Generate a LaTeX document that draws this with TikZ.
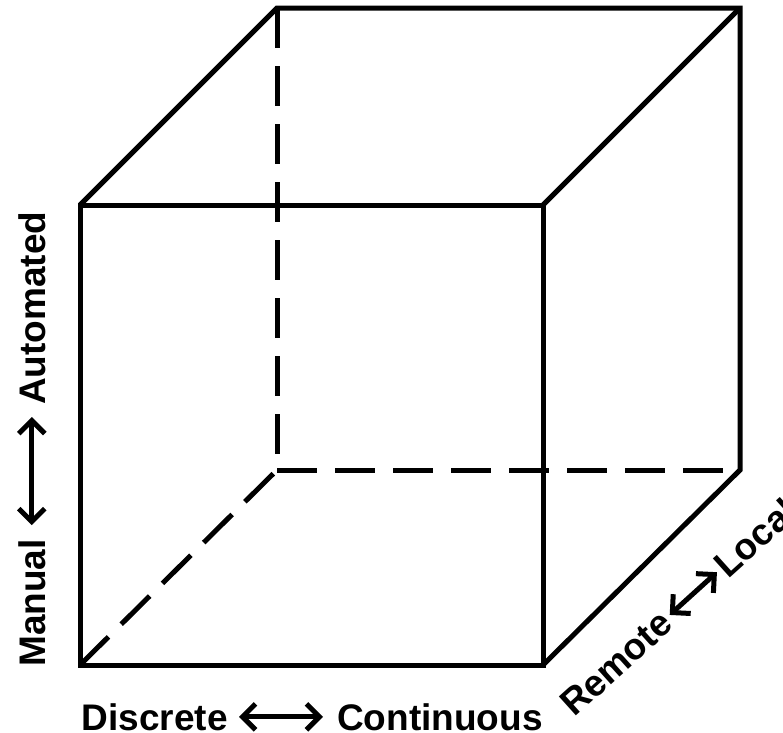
\documentclass[tikz,border=0pt]{standalone}
\usepackage{fontspec}
\setmainfont{Liberation Sans}
\usetikzlibrary{arrows.meta}
\begin{document}
\begin{tikzpicture}[x=1pt,y=-1pt,
  edge/.style={line width=5pt,line join=miter},
  hidden/.style={edge,dash pattern=on 40pt off 18pt},
  lbl/.style={inner sep=0pt,font=\fontsize{37}{42}\selectfont\bfseries},
  barb/.tip={Straight Barb[length=13pt,width=26pt,line width=5pt]},
  dbl/.style={line width=5pt,barb-barb}]
\useasboundingbox (0,0) rectangle (783,732);
% front face corners
\coordinate (f1) at (80,205);
\coordinate (f2) at (543,205);
\coordinate (f3) at (543,665);
\coordinate (f4) at (80,665);
% back face corners
\coordinate (b1) at (277,8);
\coordinate (b2) at (740,8);
\coordinate (b3) at (740,470);
\coordinate (b4) at (277,470);
% hidden edges
\draw[hidden] (b1) -- (b4);
\draw[hidden] (b4) -- (b3);
\draw[hidden] (f4) -- (b4);
% visible edges
\draw[edge] (f1) -- (f2) -- (f3) -- (f4) -- cycle;
\draw[edge] (f1) -- (b1) -- (b2) -- (b3) -- (f3);
\draw[edge] (f2) -- (b2);
% axis labels
\node[lbl,anchor=base east] (dis) at (228,730) {Discrete};
\node[lbl,anchor=base west] (con) at (337,730) {Continuous};
\draw[dbl,shorten <=11pt,shorten >=14pt] (dis.east) -- (con.west);
\node[lbl,rotate=90,anchor=base west] (man) at (45,667) {Manual};
\node[lbl,rotate=90,anchor=base west] (aut) at (45,405) {Automated};
\draw[dbl,shorten <=14pt,shorten >=12pt] (man.east) -- (aut.west);
\node[lbl,rotate=42,anchor=base west] (rem) at (574,718) {Remote};
\node[lbl,rotate=42,anchor=base west] (loc) at (728,580) {Local};
\draw[dbl,shorten <=4pt,shorten >=3pt] (rem.east) -- (loc.west);
\end{tikzpicture}
\end{document}
